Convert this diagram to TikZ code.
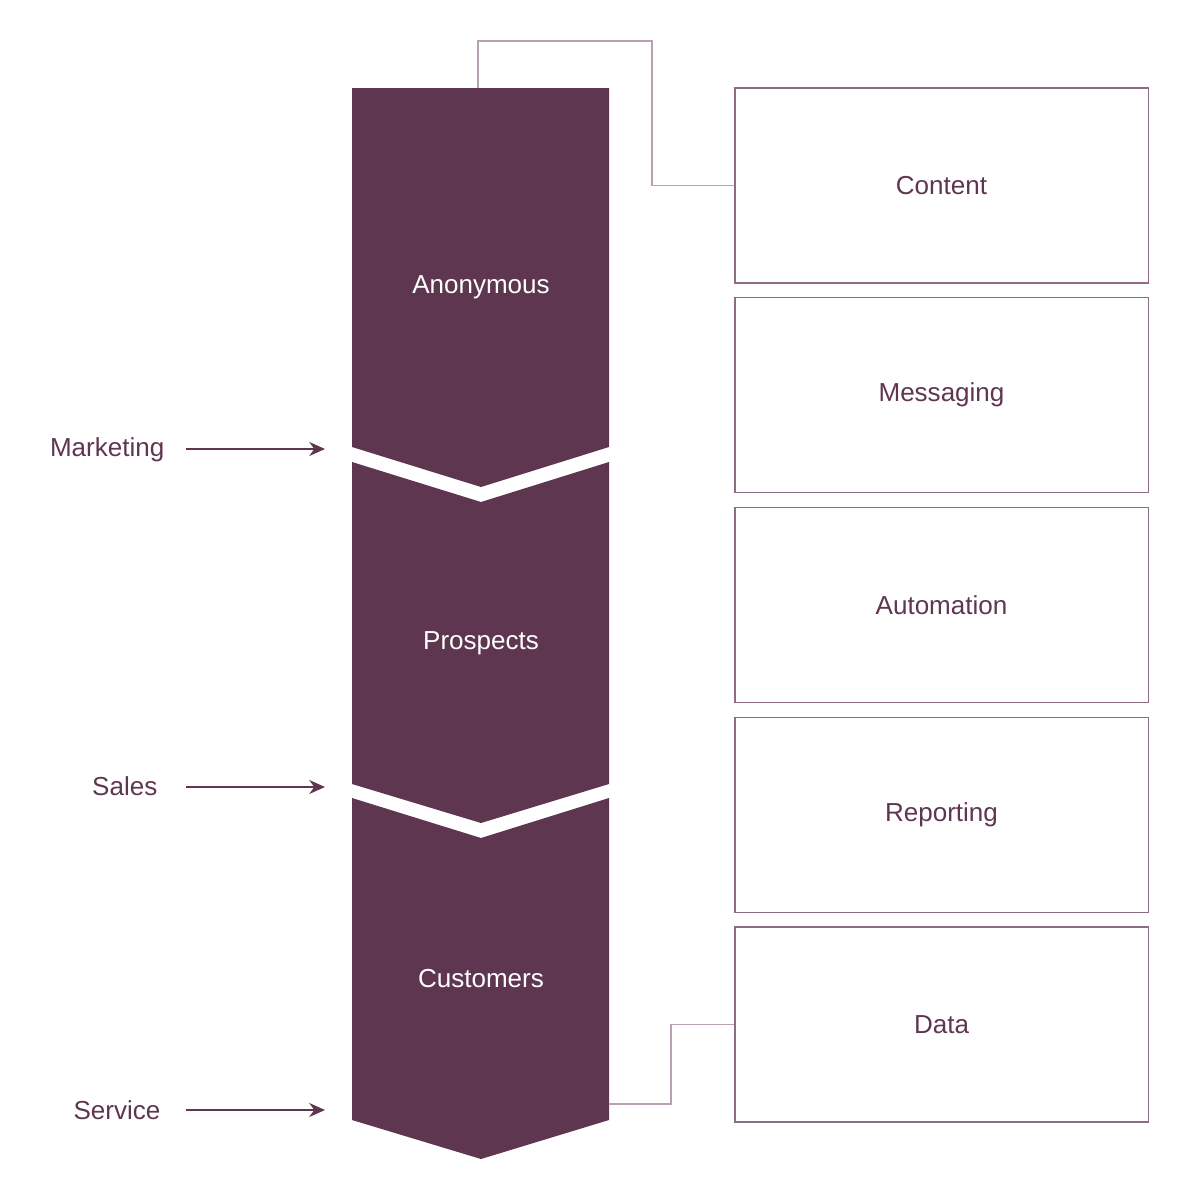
\documentclass[tikz,border=0pt]{standalone}
\usepackage{fontspec}
\setmainfont{Liberation Sans}
\usetikzlibrary{arrows.meta}
\definecolor{plum}{HTML}{5E364F}
\definecolor{plumline}{HTML}{8E6C84}
\definecolor{plumlight}{HTML}{B9A1B3}
\begin{document}
\begin{tikzpicture}[x=0.01cm,y=-0.01cm,
  stage/.style={fill=plum,draw=none},
  stagetext/.style={text=white,font=\fontsize{7.4}{9}\selectfont},
  toolbox/.style={draw=plumline,line width=0.35pt,minimum width=4.13cm,minimum height=1.95cm,text=plum,font=\fontsize{7.4}{9}\selectfont},
  sidelabel/.style={text=plum,font=\fontsize{7.4}{9}\selectfont,inner sep=0pt,anchor=east},
  feed/.style={draw=plum,line width=0.35pt,-{Stealth[length=4.5pt,width=4pt]}},
  link/.style={draw=plumlight,line width=0.5pt}]
\useasboundingbox (0,0) rectangle (1200,1200);
% stages
\fill[stage] (352,88) -- (609,88) -- (609,447) -- (481,487) -- (352,447) -- cycle;
\fill[stage] (352,462) -- (481,502) -- (609,462) -- (609,784) -- (481,823) -- (352,784) -- cycle;
\fill[stage] (352,798) -- (481,838) -- (609,798) -- (609,1120) -- (481,1159) -- (352,1120) -- cycle;
\node[stagetext] (anon) at (481,287) {Anonymous};
\node[stagetext] (pros) at (481,643) {Prospects};
\node[stagetext] (cust) at (481,979) {Customers};
\coordinate (s1top) at (478,88);
\coordinate (s3side) at (609,1104);
\coordinate (t1) at (325,449);
\coordinate (t2) at (325,787);
\coordinate (t3) at (325,1110);
% boxes
\node[toolbox] (content) at (941.5,185.5) {Content};
\node[toolbox] (msg) at (941.5,395) {Messaging};
\node[toolbox] (auto) at (941.5,605) {Automation};
\node[toolbox] (rep) at (941.5,815) {Reporting};
\node[toolbox] (data) at (941.5,1024.5) {Data};
% side labels
\node[sidelabel] (mkt) at (165,450) {Marketing};
\node[sidelabel] (sales) at (158,786) {Sales};
\node[sidelabel] (serv) at (161,1110) {Service};
\draw[feed] (186,449) -- (t1);
\draw[feed] (186,787) -- (t2);
\draw[feed] (186,1110) -- (t3);
% connectors
\draw[link] (s1top) -- (478,41) -- (652,41) |- (content.west);
\draw[link] (s3side) -- (671,1104) |- (data.west);
\end{tikzpicture}
\end{document}
